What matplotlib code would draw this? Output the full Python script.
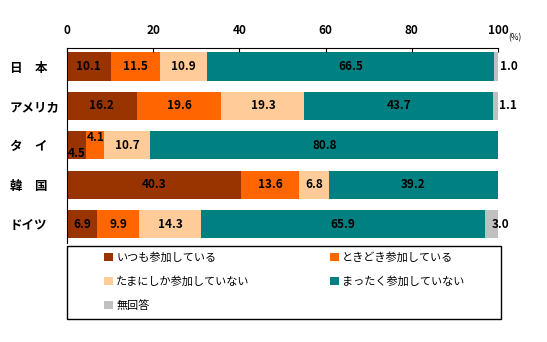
import matplotlib.pyplot as plt
import matplotlib.patches as mpatches
import numpy as np

plt.rcParams['font.family'] = ['Noto Sans CJK JP', 'DejaVu Sans']

# データ
countries = ['日　本', 'アメリカ', 'タ　イ', '韓　国', 'ドイツ']
answers = ['いつも参加している', 'ときどき参加している', 'たまにしか参加していない',
           'まったく参加していない', '無回答']
always = [10.1, 16.2, 4.5, 40.3, 6.9]
sometimes = [11.5, 19.6, 4.1, 13.6, 9.9]
rarely = [10.9, 19.3, 10.7, 6.8, 14.3]
never = [66.5, 43.7, 80.8, 39.2, 65.9]
no_answer = [1.0, 1.1, 0.0, 0.0, 3.0]
ticks = [0, 20, 40, 60, 80, 100]

series = [always, sometimes, rarely, never, no_answer]
colors = ['#993300', '#FF6600', '#FFCC99', '#008080', '#C0C0C0']

fig = plt.figure(figsize=(5.47, 3.42), dpi=100)
ax = fig.add_axes([67 / 547, 1 - 243 / 342, 431 / 547, 195 / 342])

y = np.arange(len(countries))
left = np.zeros(len(countries))
bars = []
for vals, c, name in zip(series, colors, answers):
    b = ax.barh(y, vals, left=left, height=0.72, color=c, label=name)
    bars.append(b)
    for i, v in enumerate(vals):
        if v == 0:
            continue
        if name == '無回答':
            ax.text(left[i] + 1.5, y[i], f'{v:.1f}', ha='left', va='center',
                    fontsize=8.5, fontweight='bold')
        elif v < 5:
            # 幅が狭いところは上下にずらす
            dy = 0.2 if name == 'いつも参加している' else -0.2
            ax.text(left[i] + v / 2, y[i] + dy, f'{v:.1f}', ha='center', va='center',
                    fontsize=8.5, fontweight='bold')
        else:
            ax.text(left[i] + v / 2, y[i], f'{v:.1f}', ha='center', va='center',
                    fontsize=8.5, fontweight='bold')
        left[i] += v

ax.set_xlim(0, 100)
ax.set_ylim(4.48, -0.47)
ax.set_yticks(y)
ax.set_yticklabels(countries, fontsize=9, fontweight='bold', ha='left')
ax.set_xticks(ticks)
ax.set_xticklabels([str(t) for t in ticks], fontsize=8.5, fontweight='bold')
ax.xaxis.tick_top()
ax.tick_params(axis='x', direction='in', length=3, pad=8)
ax.tick_params(axis='y', length=0, pad=41)
for s in ['right', 'bottom']:
    ax.spines[s].set_visible(False)
fig.text(515 / 547, 1 - 38 / 342, '(%)', fontsize=6, ha='center', va='center')

# 凡例の枠
box = mpatches.Rectangle((67 / 547, 1 - 319 / 342), 434 / 547, 73 / 342,
                         transform=fig.transFigure, fill=False,
                         edgecolor='black', linewidth=1)
fig.patches.append(box)

# 凡例
order = [0, 2, 4, 1, 3]
handles = [bars[k] for k in order]
labels = [answers[k] for k in order]
leg = fig.legend(handles, labels, loc='upper left', ncol=2,
                 bbox_to_anchor=(104 / 547, 1 - 252 / 342),
                 fontsize=8, frameon=False,
                 handlelength=0.8, handleheight=0.8, handletextpad=0.3,
                 columnspacing=7.2, borderpad=0, labelspacing=1.2, borderaxespad=0)

fig.savefig('out.png', dpi=100)
